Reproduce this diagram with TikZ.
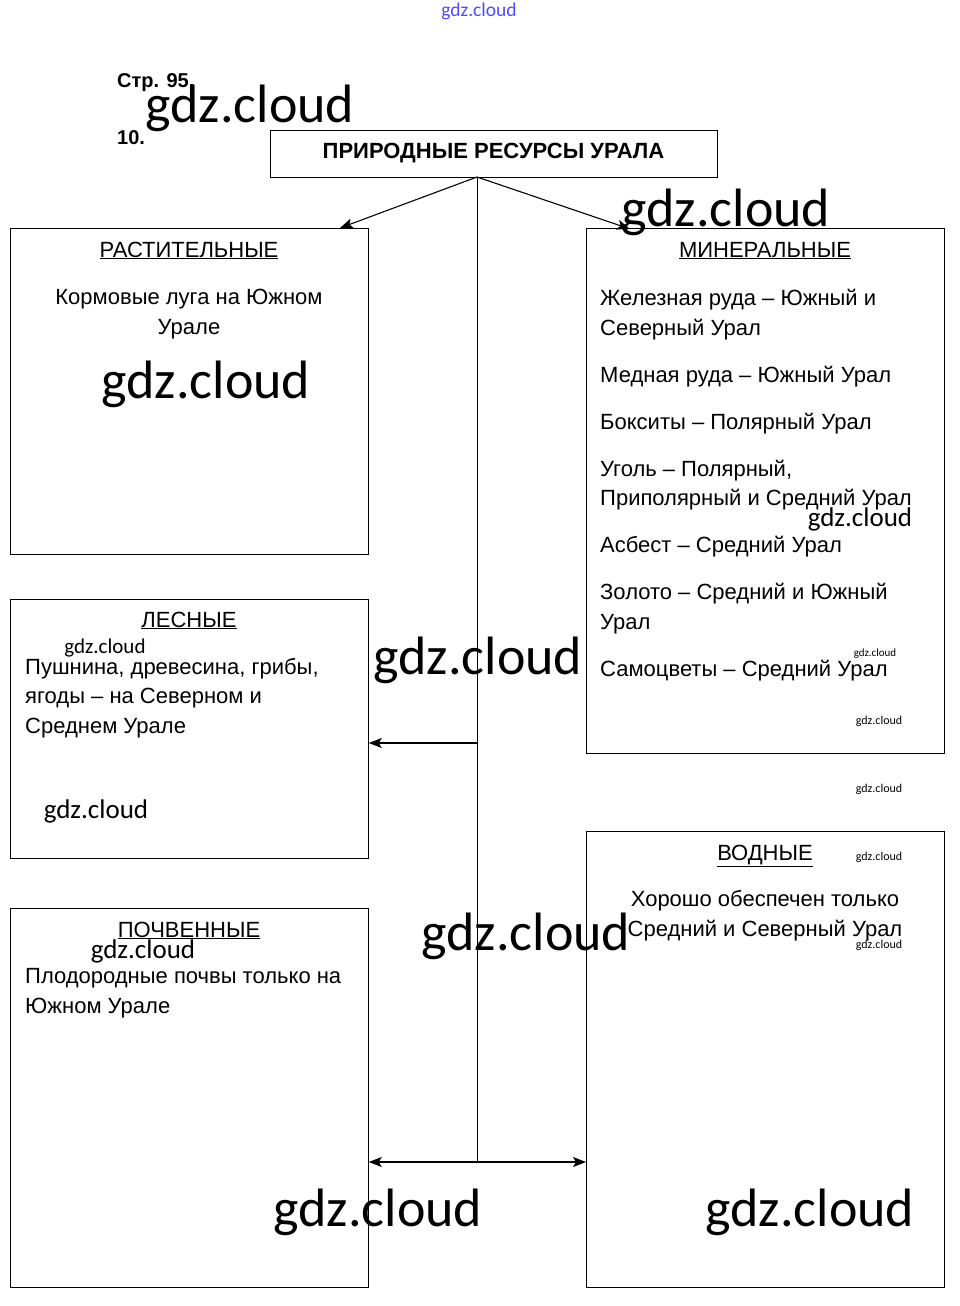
\documentclass[tikz,border=0pt]{standalone}
\usepackage{fontspec}
\setmainfont{Liberation Sans}
\newfontfamily\wmfont{Carlito}
\usetikzlibrary{arrows.meta}

\begin{document}
\begin{tikzpicture}[x=1pt,y=-1pt,
    box/.style={draw,line width=0.8pt,inner sep=0,anchor=north west},
    hd/.style={font=\fontsize{22}{26}\selectfont,inner sep=0,anchor=base},
    txt/.style={font=\fontsize{22}{29.5}\selectfont,inner sep=0,anchor=base west,align=left},
    wm/.style={font=\wmfont\fontsize{#1}{#1}\selectfont,inner sep=0},
    arr/.style={-{Stealth[length=13pt,width=10pt,inset=3pt]},line width=1.1pt}]
    \useasboundingbox (0,0) rectangle (959,1306);
    % page header
    \node[font=\bfseries\fontsize{20}{22}\selectfont,inner sep=0,anchor=base west] (page) at (117,87) {Стр. 95.};
    \node[font=\bfseries\fontsize{20}{22}\selectfont,inner sep=0,anchor=base west] (num) at (117,144) {10.};
    % boxes
    \node[draw,line width=0.8pt,minimum width=447pt,minimum height=47pt,font=\bfseries\fontsize{22}{26}\selectfont] (title) at (493.5,153.5) {ПРИРОДНЫЕ РЕСУРСЫ УРАЛА};
    \node[box,minimum width=358pt,minimum height=326pt] (rast) at (10,228) {};
    \node[box,minimum width=358pt,minimum height=525pt] (min) at (586,228) {};
    \node[box,minimum width=358pt,minimum height=259pt] (les) at (10,599) {};
    \node[box,minimum width=358pt,minimum height=379pt] (poch) at (10,908) {};
    \node[box,minimum width=358pt,minimum height=456pt] (vod) at (586,831) {};
    % headings
    \node[hd] (rasth) at (189,257) {\underline{РАСТИТЕЛЬНЫЕ}};
    \node[hd] (minh) at (765,257) {\underline{МИНЕРАЛЬНЫЕ}};
    \node[hd] (lesh) at (189,627) {\underline{ЛЕСНЫЕ}};
    \node[hd] (pochh) at (189,937) {\underline{ПОЧВЕННЫЕ}};
    \node[hd] (vodh) at (765,860) {\underline{ВОДНЫЕ}};
    % texts (base = last line)
    \node[txt,anchor=base,align=center] (rastt) at (189,334) {Кормовые луга на Южном\\Урале};
    \node[txt] (mint) at (600,676) {Железная руда – Южный и\\Северный Урал\\[17.5pt]
      Медная руда – Южный Урал\\[17.5pt]
      Бокситы – Полярный Урал\\[17.5pt]
      Уголь – Полярный,\\Приполярный и Средний Урал\\[17.5pt]
      Асбест – Средний Урал\\[17.5pt]
      Золото – Средний и Южный\\Урал\\[17.5pt]
      Самоцветы – Средний Урал};
    \node[txt] (lest) at (25,733) {Пушнина, древесина, грибы,\\ягоды – на Северном и\\Среднем Урале};
    \node[txt] (locht) at (25,1013) {Плодородные почвы только на\\Южном Урале};
    \node[txt,anchor=base,align=center] (vodt) at (765,936) {Хорошо обеспечен только\\Средний и Северный Урал};
    % connectors
    \coordinate (root) at (477,177);
    \coordinate (fork) at (477,743);
    \coordinate (bottom) at (477,1162);
    \coordinate (rastin) at (340,228);
    \coordinate (minin) at (630,229);
    \draw[line width=1pt] (root) -- (bottom);
    \draw[arr] (root) -- (rastin);
    \draw[arr] (root) -- (minin);
    \draw[arr] (fork) -- (les.east |- fork);
    \draw[arr] (bottom) -- (poch.east |- bottom);
    \draw[arr] (bottom) -- (vod.west |- bottom);
    % watermarks
    \node[wm=19.5,text=blue!70] (wm0) at (479,11) {gdz.cloud};
    \foreach \x/\y/\s [count=\i] in {250/108/54, 726/212/54, 206/384/54, 860/519/27,
        478/660/54, 105/648/21, 96/811/27, 875/654/11, 879/721/12, 879/789/12,
        879/857/12, 879/945/12, 143/951/27, 526/936/54, 378/1212/54, 810/1212/54}
      \node[wm=\s] (wm\i) at (\x,\y) {gdz.cloud};
\end{tikzpicture}
\end{document}
